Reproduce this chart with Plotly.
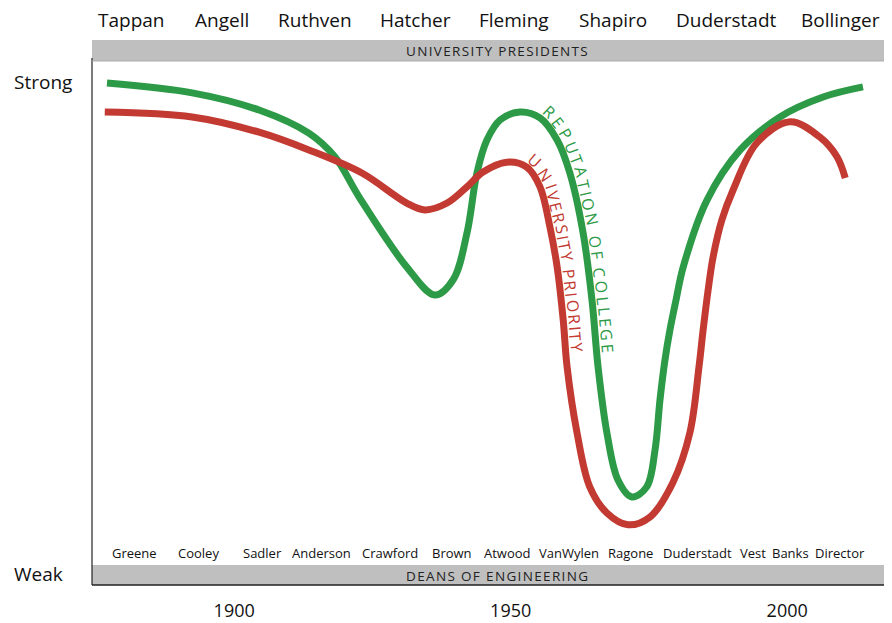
import math
import plotly.graph_objects as go

# ---- data ----
rep_years = [1877.0, 1892.4, 1904.5, 1913.5, 1918.2, 1922.6, 1931.2, 1936.3, 1939.6,
             1942.1, 1943.9, 1945.7, 1948.1, 1951.7, 1955.3, 1958.4, 1960.7, 1963.1, 1964.7,
             1965.8, 1967.4, 1969.4, 1971.9, 1974.6, 1976.1, 1977.0, 1977.9, 1978.8, 1979.9,
             1981.2, 1985.5, 1991.5, 1998.7, 2006.5, 2013.7]
rep_values = [99.8, 97.8, 94.3, 89.6, 84.8, 76.6, 62.4, 56.7, 59.8,
              69.3, 81.5, 88.2, 92.3, 93.9, 92.7, 88.2, 81.5, 69.3, 55.7,
              42.1, 28.7, 19.1, 15.65, 17.7, 25.2, 35.4, 43.5, 49.6, 55.7,
              62.4, 76.0, 86.2, 92.9, 96.95, 99.0]

pri_years = [1876.6, 1892.4, 1904.5, 1913.5, 1923.1, 1931.2, 1934.5, 1938.5,
             1942.1, 1945.0, 1949.3, 1952.9, 1955.3, 1957.1, 1958.4, 1959.5, 1960.2, 1962.0,
             1964.3, 1967.4, 1971.2, 1975.2, 1979.3, 1982.4, 1984.05, 1984.8, 1985.7, 1986.6,
             1988.2, 1990.2, 1994.5, 2000.5, 2005.9, 2009.0, 2010.5]
pri_values = [93.9, 92.9, 89.8, 86.2, 81.5, 75.4, 74.0, 75.4,
              78.7, 81.7, 83.7, 82.7, 78.7, 70.5, 62.4, 51.6, 42.1, 28.7,
              17.7, 12.4, 10.0, 11.6, 18.5, 28.7, 42.1, 49.6, 57.7, 64.4,
              72.0, 78.0, 87.6, 91.9, 88.8, 84.8, 80.5]

presidents = ["Tappan", "Angell", "Ruthven", "Hatcher", "Fleming", "Shapiro", "Duderstadt", "Bollinger"]
deans = ["Greene", "Cooley", "Sadler", "Anderson", "Crawford", "Brown", "Atwood", "VanWylen",
         "Ragone", "Duderstadt", "Vest", "Banks", "Director"]
year_ticks = [1900, 1950, 2000]
year_labels = ["1900", "1950", "2000"]
strength_ticks = [100, 0]
strength_labels = ["Strong", "Weak"]

rep_label = "REPUTATION OF COLLEGE"
pri_label = "UNIVERSITY PRIORITY"

# ---- layout (the page body adds an 8px margin, so the figure is 8px smaller) ----
W, H = 884, 615
ML, MR, MT, MB = 84, 4, 32, 38
XR = [1874.29, 2018.23]
YR = [-2.24, 108.54]
PW, PH = W - ML - MR, H - MT - MB

pres_pos = [0.049, 0.1633, 0.2802, 0.4058, 0.5302, 0.6545, 0.7965, 0.9397]
dean_pos = [0.0528, 0.1344, 0.2148, 0.2889, 0.3744, 0.4523, 0.5214, 0.5992,
            0.6771, 0.7601, 0.8304, 0.8781, 0.9397]

GREEN = "#2c9a46"
RED = "#c23a31"
FONT = "Open Sans"


def to_px(x, y):
    return (ML + (x - XR[0]) / (XR[1] - XR[0]) * PW,
            MT + (YR[1] - y) / (YR[1] - YR[0]) * PH)


def to_data(px, py):
    return (XR[0] + (px - ML) / PW * (XR[1] - XR[0]),
            YR[1] - (py - MT) / PH * (YR[1] - YR[0]))


CHAR_W = {"A": .633, "B": .648, "C": .631, "D": .729, "E": .556, "F": .516, "G": .728,
          "I": .30, "L": .519, "N": .763, "O": .79, "P": .604, "R": .618, "S": .551,
          "T": .553, "U": .732, "V": .592, "Y": .554, " ": .30}


def text_on_curve(text, xs, ys, x_start, x_end, color, size, offset):
    """Place the characters of `text` along the curve, on its right-hand side."""
    pts = [to_px(a, b) for a, b in zip(xs, ys)]
    dense = []
    for (x0, y0), (x1, y1) in zip(pts[:-1], pts[1:]):
        n = max(2, int(math.hypot(x1 - x0, y1 - y0)))
        for k in range(n):
            t = k / n
            dense.append((x0 + (x1 - x0) * t, y0 + (y1 - y0) * t))
    dense.append(pts[-1])
    s = [0.0]
    for (x0, y0), (x1, y1) in zip(dense[:-1], dense[1:]):
        s.append(s[-1] + math.hypot(x1 - x0, y1 - y0))

    def point_at(sv):
        for i in range(1, len(s)):
            if s[i] >= sv:
                t = (sv - s[i - 1]) / max(1e-9, s[i] - s[i - 1])
                return (dense[i - 1][0] + (dense[i][0] - dense[i - 1][0]) * t,
                        dense[i - 1][1] + (dense[i][1] - dense[i - 1][1]) * t)
        return dense[-1]

    def s_of_x(px):
        for i in range(1, len(dense)):
            if dense[i][0] >= px:
                return s[i]
        return s[-1]

    s0 = s_of_x(to_px(x_start, 0)[0])
    s1 = s_of_x(to_px(x_end, 0)[0])
    widths = [CHAR_W.get(c, .6) for c in text]
    total = sum(widths)
    out = []
    acc = 0.0
    for c, w in zip(text, widths):
        sc = s0 + (acc + w / 2) / total * (s1 - s0)
        acc += w
        if c == " ":
            continue
        pa = point_at(sc - 7)
        pb = point_at(sc + 7)
        tx, ty = pb[0] - pa[0], pb[1] - pa[1]
        ln = math.hypot(tx, ty)
        tx, ty = tx / ln, ty / ln
        cx, cy = point_at(sc)
        cx, cy = cx + ty * offset, cy - tx * offset
        dx, dy = to_data(cx, cy)
        out.append(dict(text=c, x=dx, y=dy, xref="x", yref="y",
                        textangle=math.degrees(math.atan2(ty, tx)),
                        xanchor="center", yanchor="middle", showarrow=False,
                        font=dict(family=FONT, size=size, color=color)))
    return out


fig = go.Figure()
fig.add_trace(go.Scatter(x=rep_years, y=rep_values, mode="lines",
                         line=dict(color=GREEN, width=7, shape="spline", smoothing=1.0),
                         hoverinfo="skip", name="Reputation of College"))
fig.add_trace(go.Scatter(x=pri_years, y=pri_values, mode="lines",
                         line=dict(color=RED, width=7, shape="spline", smoothing=1.0),
                         hoverinfo="skip", name="University Priority"))

ann = []
for name, px in zip(presidents, pres_pos):
    ann.append(dict(text=name, x=px, y=1.0367, xref="paper", yref="paper",
                    xanchor="center", yanchor="middle", showarrow=False,
                    font=dict(family=FONT, size=19, color="#111")))
for name, px in zip(deans, dean_pos):
    ann.append(dict(text=name, x=px, y=0.0587, xref="paper", yref="paper",
                    xanchor="center", yanchor="middle", showarrow=False,
                    font=dict(family=FONT, size=13, color="#111")))


def spaced(txt):
    return "\u200a".join(list(txt))


ann.append(dict(text=spaced("UNIVERSITY PRESIDENTS"), x=0.5088, y=0.9807, xref="paper", yref="paper",
                xanchor="center", yanchor="middle", showarrow=False,
                font=dict(family=FONT, size=13.5, color="#222")))
ann.append(dict(text=spaced("DEANS OF ENGINEERING"), x=0.5088, y=0.0174, xref="paper", yref="paper",
                xanchor="center", yanchor="middle", showarrow=False,
                font=dict(family=FONT, size=13.5, color="#222")))

for lab, v in zip(strength_labels, strength_ticks):
    ann.append(dict(text=lab, x=-0.1005, y=v, xref="paper", yref="y",
                    xanchor="left", yanchor="middle", showarrow=False,
                    font=dict(family=FONT, size=19, color="#111")))

ann += text_on_curve(rep_label, rep_years, rep_values, 1954.6, 1965.6, GREEN, 16, 11)
ann += text_on_curve(pri_label, pri_years, pri_values, 1952.0, 1960.0, RED, 16, 11)

shapes = [
    dict(type="rect", xref="paper", yref="paper", x0=0, x1=1, y0=0.9615, y1=1.0,
         fillcolor="#bfbfbf", line=dict(width=0), layer="above"),
    dict(type="rect", xref="paper", yref="paper", x0=0, x1=1, y0=0.0, y1=0.0367,
         fillcolor="#bfbfbf", line=dict(width=0), layer="above"),
    dict(type="line", xref="paper", yref="paper", x0=0, x1=0, y0=0, y1=0.967,
         line=dict(color="#222", width=1.2), layer="above"),
    dict(type="line", xref="paper", yref="paper", x0=1, x1=1, y0=0, y1=0.9615,
         line=dict(color="#222", width=1.2), layer="above"),
    dict(type="line", xref="paper", yref="paper", x0=0, x1=1, y0=0, y1=0,
         line=dict(color="#222", width=1.5), layer="above"),
    dict(type="line", xref="paper", yref="paper", x0=0, x1=1, y0=0.9615, y1=0.9615,
         line=dict(color="#aaa", width=1), layer="above"),
]

fig.update_layout(
    width=W, height=H,
    margin=dict(l=ML, r=MR, t=MT, b=MB, autoexpand=False),
    paper_bgcolor="white", plot_bgcolor="white",
    showlegend=False,
    annotations=ann, shapes=shapes,
    xaxis=dict(range=XR, tickvals=year_ticks, ticktext=year_labels, automargin=False,
               showgrid=False, zeroline=False, showline=False, ticks="",
               tickfont=dict(family=FONT, size=18, color="#111"), ticklabelstandoff=13),
    yaxis=dict(range=YR, showgrid=False, zeroline=False, showline=False, automargin=False,
               showticklabels=False, ticks=""),
)

fig.write_html("out.html", config={"displayModeBar": False})
